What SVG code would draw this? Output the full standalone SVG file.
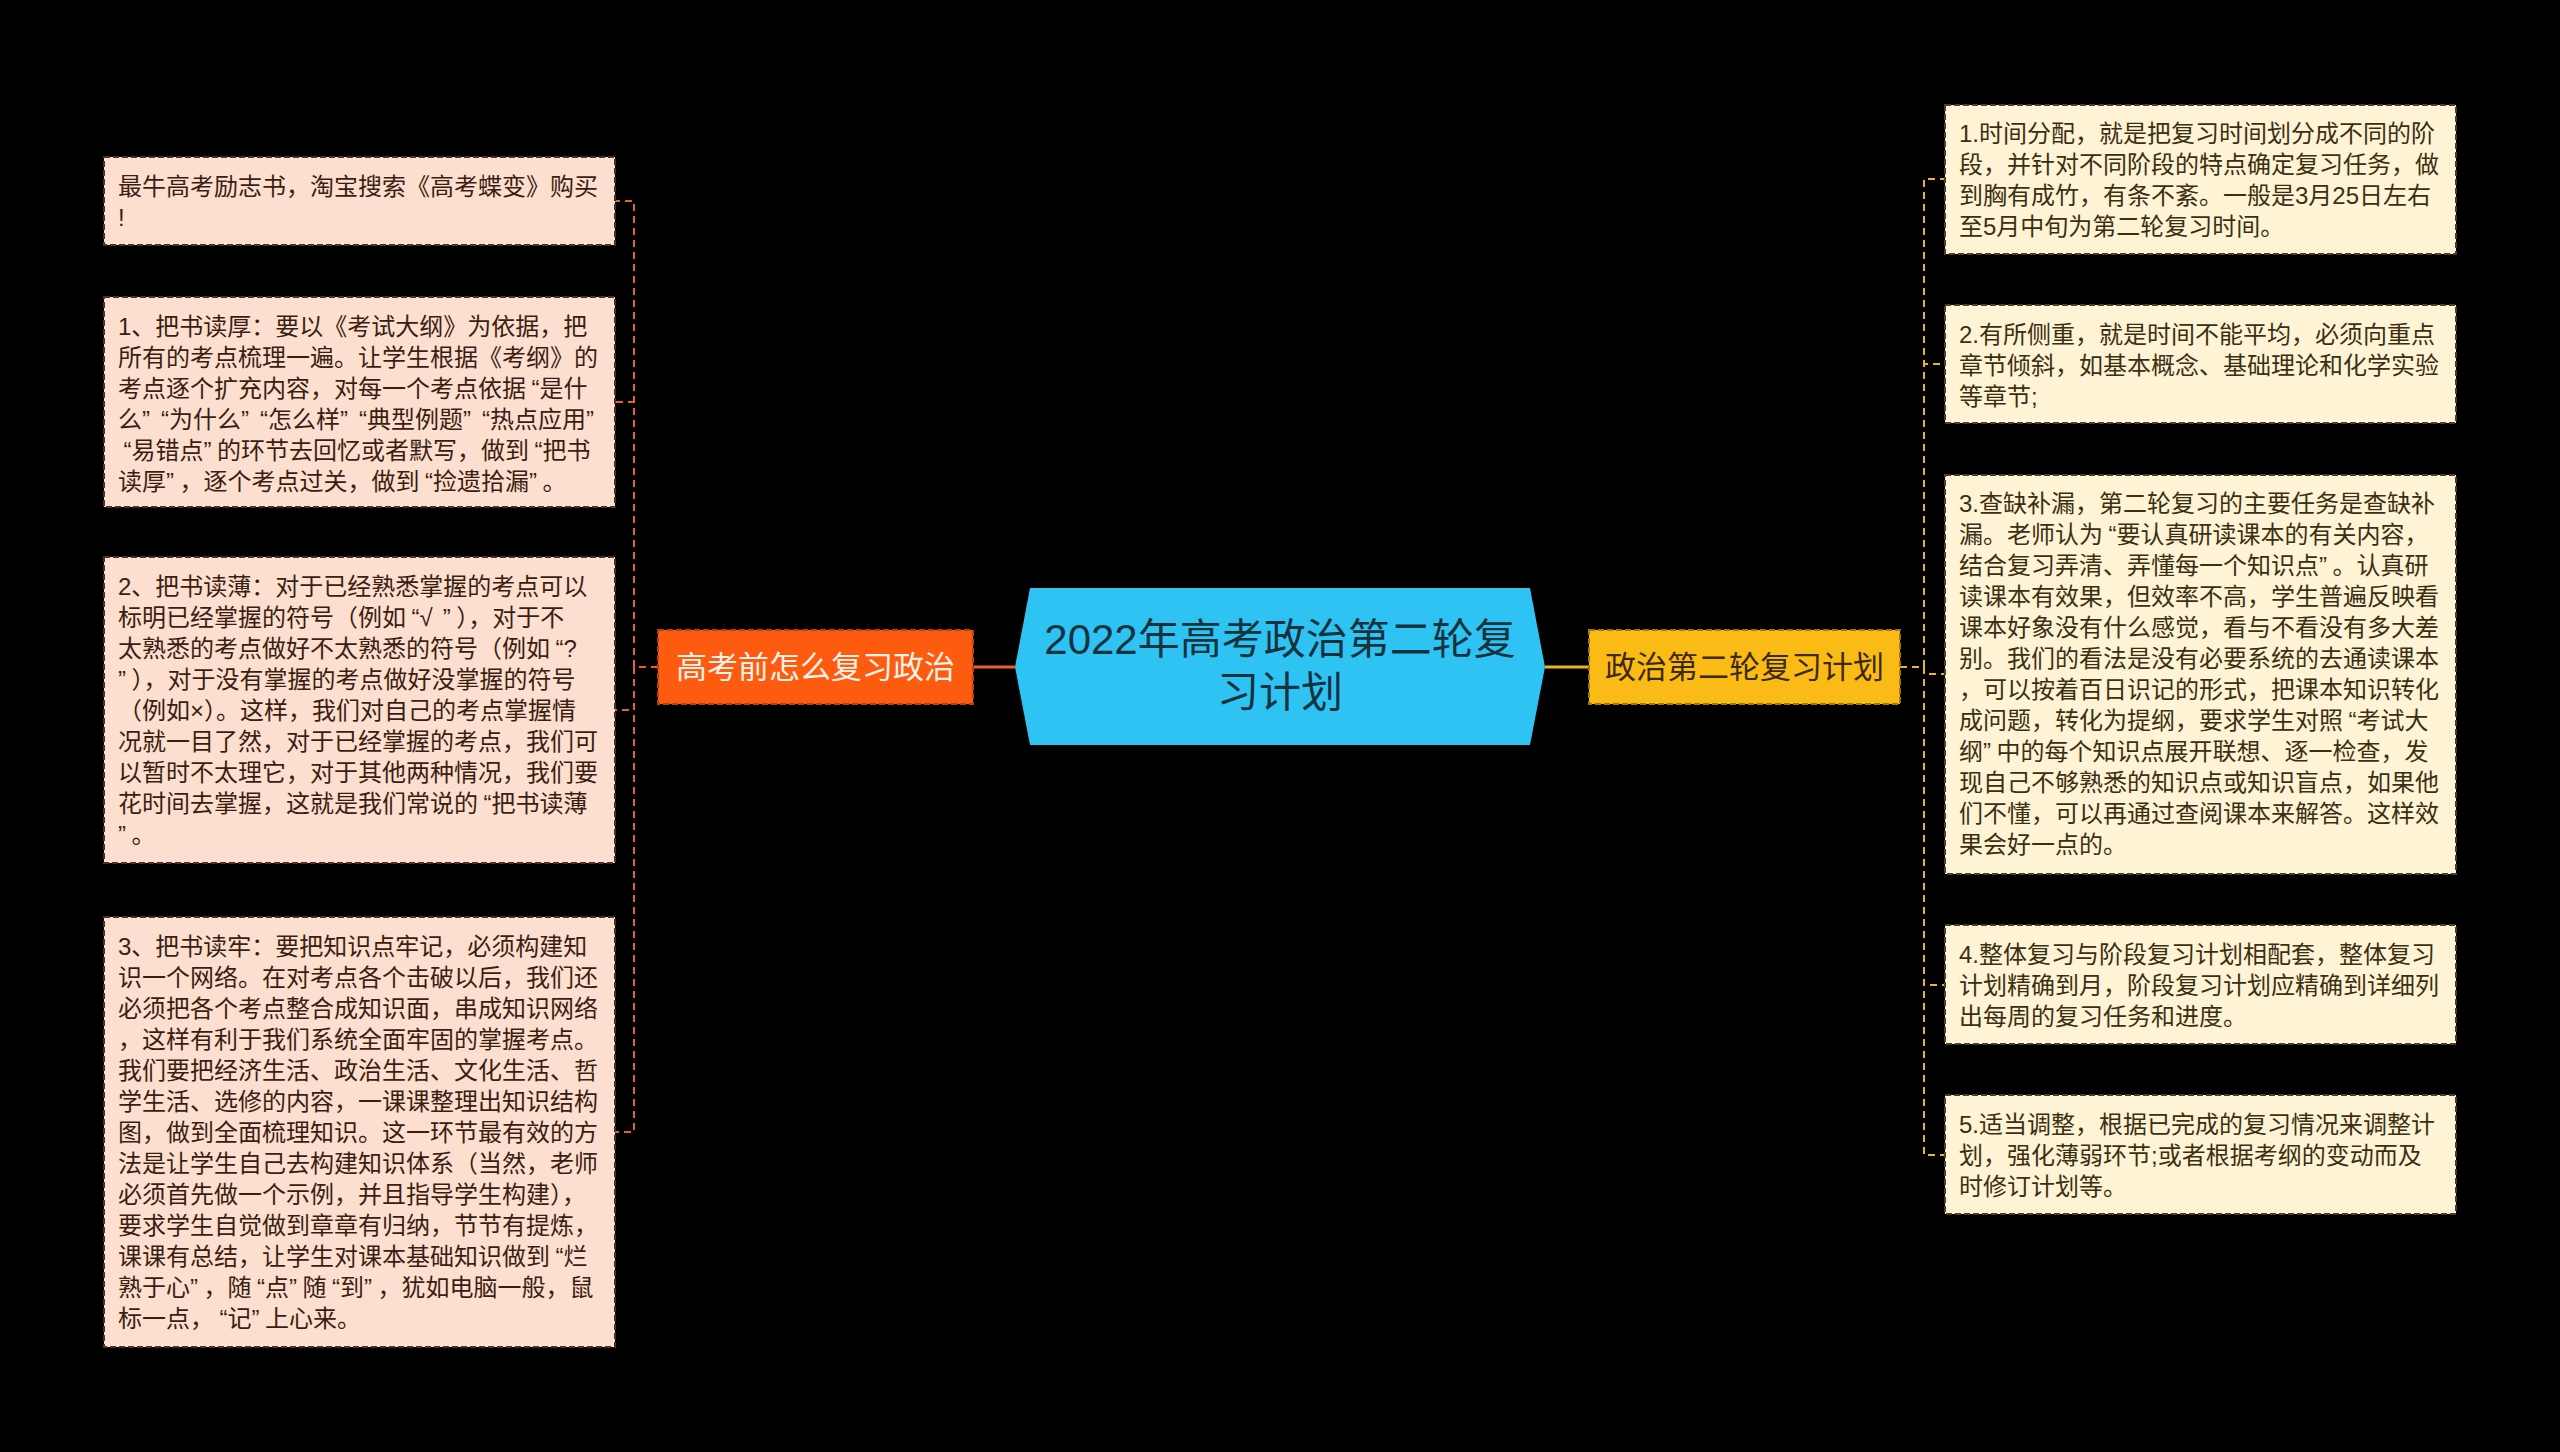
<svg xmlns="http://www.w3.org/2000/svg" width="2560" height="1452" viewBox="0 0 2560 1452">
<style>
.t{font-family:'Liberation Sans','Noto Sans CJK SC',sans-serif;font-size:24px}
.lt{fill:#3A1E12}
.rt{fill:#3B2F12}
.q{letter-spacing:5.5px}
.lbox{fill:#FDDFCF;stroke:#4a3228;stroke-width:2;stroke-dasharray:6 3}
.rbox{fill:#FFF3D6;stroke:#4a3f22;stroke-width:2;stroke-dasharray:6 3}
.lc{fill:none;stroke:#E8602A;stroke-width:2;stroke-dasharray:7 5}
.rc{fill:none;stroke:#E9B521;stroke-width:2;stroke-dasharray:7 5}
.nt{font-family:'Liberation Sans','Noto Sans CJK SC',sans-serif;text-anchor:middle}
</style>
<rect x="0" y="0" width="2560" height="1452" fill="#000000"/>
<g id="connectors">
<line x1="973" y1="667" x2="1015" y2="667" stroke="#E8602A" stroke-width="3"/>
<line x1="1545" y1="667" x2="1589" y2="667" stroke="#E9B521" stroke-width="3"/>
<path class="lc" d="M658 667 H634 V201 H615"/>
<path class="lc" d="M634 667 V402 H615"/>
<path class="lc" d="M634 667 V710 H615"/>
<path class="lc" d="M634 667 V1132 H615"/>
<path class="rc" d="M1900 667 H1924 V179 H1945"/>
<path class="rc" d="M1924 667 V364 H1945"/>
<path class="rc" d="M1924 667 V674 H1945"/>
<path class="rc" d="M1924 667 V985 H1945"/>
<path class="rc" d="M1924 667 V1155 H1945"/>
</g>
<g id="center">
<polygon points="1015,667 1030,588 1530,588 1545,667 1530,745 1030,745" fill="#2FC3F3"/>
<text class="nt" x="1280" y="654" font-size="42" fill="#15333F">2022年高考政治第二轮复</text>
<text class="nt" x="1280" y="707" font-size="42" fill="#15333F">习计划</text>
</g>
<g id="left-main">
<rect x="658" y="630" width="315" height="74" fill="#FC5B10" stroke="#B8400A" stroke-width="2" stroke-dasharray="6 3"/>
<text class="nt" x="815.5" y="678" font-size="31" fill="#FFF2E8">高考前怎么复习政治</text>
</g>
<g id="right-main">
<rect x="1589" y="630" width="311" height="74" fill="#FBBB16" stroke="#9C7A10" stroke-width="2" stroke-dasharray="6 3"/>
<text class="nt" x="1744.5" y="678" font-size="31" fill="#3B2A05">政治第二轮复习计划</text>
</g>
<g id="left-1">
<rect class="lbox" x="104" y="157" width="511" height="88"/>
<text class="t lt"><tspan x="118" y="195">最牛高考励志书，淘宝搜索《高考蝶变》购买</tspan><tspan x="118" y="226">!</tspan></text>
</g>
<g id="left-2">
<rect class="lbox" x="104" y="297" width="511" height="210"/>
<text class="t lt"><tspan x="118" y="335">1、把书读厚：要以《考试大纲》为依据，把</tspan><tspan x="118" y="366">所有的考点梳理一遍。让学生根据《考纲》的</tspan><tspan x="118" y="397">考点逐个扩充内容，对每一个考点依据<tspan dx="5.5">“</tspan>是什</tspan><tspan x="118" y="428">么<tspan class="q">”</tspan><tspan dx="5.5">“</tspan>为什么<tspan class="q">”</tspan><tspan dx="5.5">“</tspan>怎么样<tspan class="q">”</tspan><tspan dx="5.5">“</tspan>典型例题<tspan class="q">”</tspan><tspan dx="5.5">“</tspan>热点应用<tspan class="q">”</tspan></tspan><tspan x="118" y="459"><tspan dx="5.5">“</tspan>易错点<tspan class="q">”</tspan>的环节去回忆或者默写，做到<tspan dx="5.5">“</tspan>把书</tspan><tspan x="118" y="490">读厚<tspan class="q">”</tspan>，逐个考点过关，做到<tspan dx="5.5">“</tspan>捡遗拾漏<tspan class="q">”</tspan>。</tspan></text>
</g>
<g id="left-3">
<rect class="lbox" x="104" y="557" width="511" height="306"/>
<text class="t lt"><tspan x="118" y="595">2、把书读薄：对于已经熟悉掌握的考点可以</tspan><tspan x="118" y="626">标明已经掌握的符号（例如<tspan dx="5.5">“</tspan><tspan style="letter-spacing:10px">√</tspan><tspan class="q">”</tspan>），对于不</tspan><tspan x="118" y="657">太熟悉的考点做好不太熟悉的符号（例如<tspan dx="5.5">“</tspan>?</tspan><tspan x="118" y="688"><tspan class="q">”</tspan>），对于没有掌握的考点做好没掌握的符号</tspan><tspan x="118" y="719">（例如×）。这样，我们对自己的考点掌握情</tspan><tspan x="118" y="750">况就一目了然，对于已经掌握的考点，我们可</tspan><tspan x="118" y="781">以暂时不太理它，对于其他两种情况，我们要</tspan><tspan x="118" y="812">花时间去掌握，这就是我们常说的<tspan dx="5.5">“</tspan>把书读薄</tspan><tspan x="118" y="843"><tspan class="q">”</tspan>。</tspan></text>
</g>
<g id="left-4">
<rect class="lbox" x="104" y="917" width="511" height="430"/>
<text class="t lt"><tspan x="118" y="955">3、把书读牢：要把知识点牢记，必须构建知</tspan><tspan x="118" y="986">识一个网络。在对考点各个击破以后，我们还</tspan><tspan x="118" y="1017">必须把各个考点整合成知识面，串成知识网络</tspan><tspan x="118" y="1048">，这样有利于我们系统全面牢固的掌握考点。</tspan><tspan x="118" y="1079">我们要把经济生活、政治生活、文化生活、哲</tspan><tspan x="118" y="1110">学生活、选修的内容，一课课整理出知识结构</tspan><tspan x="118" y="1141">图，做到全面梳理知识。这一环节最有效的方</tspan><tspan x="118" y="1172">法是让学生自己去构建知识体系（当然，老师</tspan><tspan x="118" y="1203">必须首先做一个示例，并且指导学生构建），</tspan><tspan x="118" y="1234">要求学生自觉做到章章有归纳，节节有提炼，</tspan><tspan x="118" y="1265">课课有总结，让学生对课本基础知识做到<tspan dx="5.5">“</tspan>烂</tspan><tspan x="118" y="1296">熟于心<tspan class="q">”</tspan>，随<tspan dx="5.5">“</tspan>点<tspan class="q">”</tspan>随<tspan dx="5.5">“</tspan>到<tspan class="q">”</tspan>，犹如电脑一般，鼠</tspan><tspan x="118" y="1327">标一点，<tspan dx="5.5">“</tspan>记<tspan class="q">”</tspan>上心来。</tspan></text>
</g>
<g id="right-1">
<rect class="rbox" x="1945" y="105" width="511" height="149"/>
<text class="t rt"><tspan x="1959" y="142">1.时间分配，就是把复习时间划分成不同的阶</tspan><tspan x="1959" y="173">段，并针对不同阶段的特点确定复习任务，做</tspan><tspan x="1959" y="204">到胸有成竹，有条不紊。一般是3月25日左右</tspan><tspan x="1959" y="235">至5月中旬为第二轮复习时间。</tspan></text>
</g>
<g id="right-2">
<rect class="rbox" x="1945" y="305" width="511" height="118"/>
<text class="t rt"><tspan x="1959" y="343">2.有所侧重，就是时间不能平均，必须向重点</tspan><tspan x="1959" y="374">章节倾斜，如基本概念、基础理论和化学实验</tspan><tspan x="1959" y="405">等章节;</tspan></text>
</g>
<g id="right-3">
<rect class="rbox" x="1945" y="475" width="511" height="399"/>
<text class="t rt"><tspan x="1959" y="512">3.查缺补漏，第二轮复习的主要任务是查缺补</tspan><tspan x="1959" y="543">漏。老师认为<tspan dx="5.5">“</tspan>要认真研读课本的有关内容，</tspan><tspan x="1959" y="574">结合复习弄清、弄懂每一个知识点<tspan class="q">”</tspan>。认真研</tspan><tspan x="1959" y="605">读课本有效果，但效率不高，学生普遍反映看</tspan><tspan x="1959" y="636">课本好象没有什么感觉，看与不看没有多大差</tspan><tspan x="1959" y="667">别。我们的看法是没有必要系统的去通读课本</tspan><tspan x="1959" y="698">，可以按着百日识记的形式，把课本知识转化</tspan><tspan x="1959" y="729">成问题，转化为提纲，要求学生对照<tspan dx="5.5">“</tspan>考试大</tspan><tspan x="1959" y="760">纲<tspan class="q">”</tspan>中的每个知识点展开联想、逐一检查，发</tspan><tspan x="1959" y="791">现自己不够熟悉的知识点或知识盲点，如果他</tspan><tspan x="1959" y="822">们不懂，可以再通过查阅课本来解答。这样效</tspan><tspan x="1959" y="853">果会好一点的。</tspan></text>
</g>
<g id="right-4">
<rect class="rbox" x="1945" y="925" width="511" height="119"/>
<text class="t rt"><tspan x="1959" y="963">4.整体复习与阶段复习计划相配套，整体复习</tspan><tspan x="1959" y="994">计划精确到月，阶段复习计划应精确到详细列</tspan><tspan x="1959" y="1025">出每周的复习任务和进度。</tspan></text>
</g>
<g id="right-5">
<rect class="rbox" x="1945" y="1095" width="511" height="119"/>
<text class="t rt"><tspan x="1959" y="1133">5.适当调整，根据已完成的复习情况来调整计</tspan><tspan x="1959" y="1164">划，强化薄弱环节;或者根据考纲的变动而及</tspan><tspan x="1959" y="1195">时修订计划等。</tspan></text>
</g>
</svg>
